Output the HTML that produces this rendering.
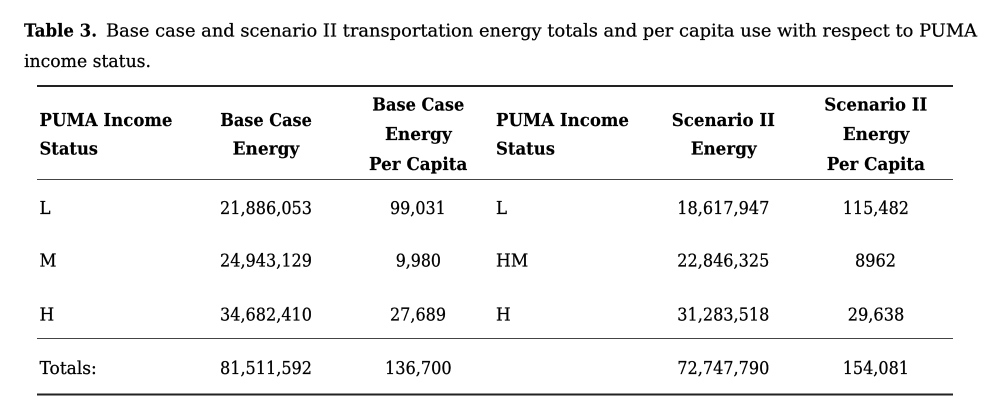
<!DOCTYPE html>
<html>
<head>
<meta charset="utf-8">
<style>
html,body{margin:0;padding:0;background:#fff;}
svg{display:block;}
text{font-family:"DejaVu Serif","Liberation Serif",serif;font-size:18px;fill:#000;stroke:#000;stroke-width:0.25px;}
.b{font-weight:bold;fill:#000;stroke-width:0.15px;}
</style>
</head>
<body>
<svg width="1001" height="420" viewBox="0 0 1001 420" xmlns="http://www.w3.org/2000/svg">
<rect width="1001" height="420" fill="#fff"/>
<!-- caption -->
<text class="b" x="24" y="36.5" textLength="73" lengthAdjust="spacingAndGlyphs">Table 3.</text>
<text x="106" y="36.5" textLength="871" lengthAdjust="spacingAndGlyphs">Base case and scenario II transportation energy totals and per capita use with respect to PUMA</text>
<text x="24" y="67" textLength="127" lengthAdjust="spacingAndGlyphs">income status.</text>

<!-- rules -->
<line x1="37" y1="86" x2="953" y2="86" stroke="#222" stroke-width="2"/>
<line x1="37" y1="179.5" x2="953" y2="179.5" stroke="#444" stroke-width="1"/>
<line x1="37" y1="338.5" x2="953" y2="338.5" stroke="#444" stroke-width="1"/>
<line x1="37" y1="394.5" x2="953" y2="394.5" stroke="#222" stroke-width="2"/>

<!-- header -->
<text class="b" x="39.5" y="126" textLength="133" lengthAdjust="spacingAndGlyphs">PUMA Income</text>
<text class="b" x="39.5" y="154.5" textLength="58.5" lengthAdjust="spacingAndGlyphs">Status</text>

<text class="b" x="220.2" y="126" textLength="91.7" lengthAdjust="spacingAndGlyphs">Base Case</text>
<text class="b" x="232.6" y="154.5" textLength="66.7" lengthAdjust="spacingAndGlyphs">Energy</text>

<text class="b" x="372.3" y="110.7" textLength="92" lengthAdjust="spacingAndGlyphs">Base Case</text>
<text class="b" x="385" y="140" textLength="66.7" lengthAdjust="spacingAndGlyphs">Energy</text>
<text class="b" x="369" y="170" textLength="98.3" lengthAdjust="spacingAndGlyphs">Per Capita</text>

<text class="b" x="496" y="126" textLength="133" lengthAdjust="spacingAndGlyphs">PUMA Income</text>
<text class="b" x="496" y="154.5" textLength="59" lengthAdjust="spacingAndGlyphs">Status</text>

<text class="b" x="671.7" y="126" textLength="103.3" lengthAdjust="spacingAndGlyphs">Scenario II</text>
<text class="b" x="690.7" y="154.5" textLength="66" lengthAdjust="spacingAndGlyphs">Energy</text>

<text class="b" x="824.3" y="110.7" textLength="103" lengthAdjust="spacingAndGlyphs">Scenario II</text>
<text class="b" x="842.7" y="140" textLength="66.7" lengthAdjust="spacingAndGlyphs">Energy</text>
<text class="b" x="826.7" y="170" textLength="98.3" lengthAdjust="spacingAndGlyphs">Per Capita</text>

<!-- row 1 -->
<text x="39.5" y="214" textLength="11" lengthAdjust="spacingAndGlyphs">L</text>
<text x="220" y="214" textLength="92" lengthAdjust="spacingAndGlyphs">21,886,053</text>
<text x="390" y="214" textLength="55.7" lengthAdjust="spacingAndGlyphs">99,031</text>
<text x="496" y="214" textLength="11" lengthAdjust="spacingAndGlyphs">L</text>
<text x="677.3" y="214" textLength="92" lengthAdjust="spacingAndGlyphs">18,617,947</text>
<text x="842.7" y="214" textLength="66.3" lengthAdjust="spacingAndGlyphs">115,482</text>

<!-- row 2 -->
<text x="39.5" y="266.7" textLength="17" lengthAdjust="spacingAndGlyphs">M</text>
<text x="220" y="266.7" textLength="92" lengthAdjust="spacingAndGlyphs">24,943,129</text>
<text x="395.7" y="266.7" textLength="45.3" lengthAdjust="spacingAndGlyphs">9,980</text>
<text x="496" y="266.7" textLength="32.3" lengthAdjust="spacingAndGlyphs">HM</text>
<text x="677.3" y="266.7" textLength="92" lengthAdjust="spacingAndGlyphs">22,846,325</text>
<text x="855" y="266.7" textLength="41" lengthAdjust="spacingAndGlyphs">8962</text>

<!-- row 3 -->
<text x="39.5" y="320.5" textLength="14.7" lengthAdjust="spacingAndGlyphs">H</text>
<text x="220" y="320.5" textLength="92" lengthAdjust="spacingAndGlyphs">34,682,410</text>
<text x="390" y="320.5" textLength="56" lengthAdjust="spacingAndGlyphs">27,689</text>
<text x="496" y="320.5" textLength="14.7" lengthAdjust="spacingAndGlyphs">H</text>
<text x="677.3" y="320.5" textLength="92" lengthAdjust="spacingAndGlyphs">31,283,518</text>
<text x="847.7" y="320.5" textLength="56.6" lengthAdjust="spacingAndGlyphs">29,638</text>

<!-- totals -->
<text x="39.5" y="374" textLength="57.3" lengthAdjust="spacingAndGlyphs">Totals:</text>
<text x="220" y="374" textLength="92" lengthAdjust="spacingAndGlyphs">81,511,592</text>
<text x="385" y="374" textLength="66.7" lengthAdjust="spacingAndGlyphs">136,700</text>
<text x="677.3" y="374" textLength="92" lengthAdjust="spacingAndGlyphs">72,747,790</text>
<text x="842.7" y="374" textLength="66.3" lengthAdjust="spacingAndGlyphs">154,081</text>
</svg>
</body>
</html>
